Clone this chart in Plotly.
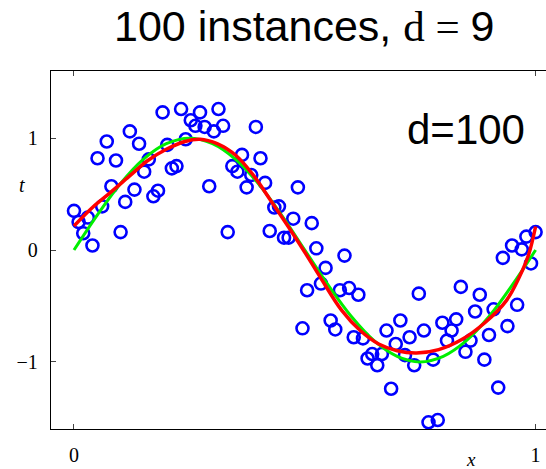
import plotly.graph_objects as go

x_obs = [0.000, 0.010, 0.020, 0.030, 0.040, 0.051, 0.061, 0.071, 0.081, 0.091,
         0.101, 0.111, 0.121, 0.131, 0.141, 0.152, 0.162, 0.172, 0.182, 0.192,
         0.202, 0.212, 0.222, 0.232, 0.242, 0.253, 0.263, 0.273, 0.283, 0.293,
         0.303, 0.313, 0.323, 0.333, 0.343, 0.354, 0.364, 0.374, 0.384, 0.394,
         0.404, 0.414, 0.424, 0.434, 0.444, 0.455, 0.465, 0.475, 0.485, 0.495,
         0.505, 0.515, 0.525, 0.535, 0.545, 0.556, 0.566, 0.576, 0.586, 0.596,
         0.606, 0.616, 0.626, 0.636, 0.646, 0.657, 0.667, 0.677, 0.687, 0.697,
         0.707, 0.717, 0.727, 0.737, 0.747, 0.758, 0.768, 0.778, 0.788, 0.798,
         0.808, 0.818, 0.828, 0.838, 0.848, 0.859, 0.869, 0.879, 0.889, 0.899,
         0.909, 0.919, 0.929, 0.939, 0.949, 0.960, 0.970, 0.980, 0.990, 1.000]
t_obs = [0.35, 0.25, 0.15, 0.29, 0.04, 0.82, 0.39, 0.97, 0.57, 0.80,
         0.16, 0.43, 1.06, 0.54, 0.95, 0.70, 0.81, 0.48, 0.53, 1.23,
         0.94, 0.73, 0.75, 1.26, 0.99, 1.16, 1.11, 1.23, 1.10, 0.57,
         1.06, 1.26, 1.11, 0.16, 0.75, 0.70, 0.85, 0.56, 0.67, 1.10,
         0.82, 0.60, 0.17, 0.38, 0.39, 0.11, 0.11, 0.28, 0.56, -0.70,
         -0.36, 0.24, 0.015, -0.30, -0.16, -0.63, -0.71, -0.36, -0.05, -0.34,
         -0.78, -0.40, -0.79, -0.97, -0.93, -1.03, -0.93, -0.72, -1.24, -0.84,
         -0.63, -0.94, -0.78, -1.03, -0.39, -0.72, -1.54, -0.98, -1.52, -0.65,
         -0.81, -0.72, -0.62, -0.33, -0.91, -0.81, -0.55, -0.40, -0.98, -0.76,
         -0.53, -1.23, -0.07, -0.68, 0.04, -0.49, 0.006, 0.12, -0.12, 0.16]

# true curve (green), read samples
x_true = [0.0, 0.05, 0.1, 0.15, 0.2, 0.25, 0.3, 0.35, 0.4, 0.45, 0.5,
          0.55, 0.6, 0.65, 0.7, 0.75, 0.8, 0.85, 0.9, 0.95, 1.0]
t_true = [0.0, 0.31, 0.59, 0.81, 0.95, 1.0, 0.95, 0.81, 0.59, 0.31, 0.0,
          -0.31, -0.59, -0.81, -0.95, -1.0, -0.95, -0.81, -0.59, -0.31, 0.0]

# fitted curve (red), read samples
x_fit = [0.0, 0.04, 0.078, 0.12, 0.16, 0.20, 0.24, 0.273, 0.31, 0.352, 0.39,
         0.425, 0.464, 0.50, 0.533, 0.58, 0.62, 0.66, 0.70, 0.742, 0.79,
         0.84, 0.89, 0.937, 0.965, 0.985, 1.0]
t_fit = [0.215, 0.38, 0.51, 0.66, 0.80, 0.90, 0.97, 0.99, 0.95, 0.84, 0.66,
         0.45, 0.21, -0.02, -0.24, -0.54, -0.72, -0.84, -0.90, -0.92, -0.89,
         -0.80, -0.65, -0.45, -0.24, -0.04, 0.21]

x_ticks = [0, 1]
y_ticks = [-1, 0, 1]

SERIF = "Liberation Serif"
SANS = "Liberation Sans"

fig = go.Figure()
fig.add_trace(go.Scatter(x=x_obs, y=t_obs, mode="markers",
                         marker=dict(symbol="circle-open", size=12, color="#0000ff",
                                     line=dict(width=2.6, color="#0000ff")),
                         showlegend=False, cliponaxis=False))
fig.add_trace(go.Scatter(x=x_true, y=t_true, mode="lines", line_shape="spline",
                         line=dict(color="#00ee00", width=3), showlegend=False))
fig.add_trace(go.Scatter(x=x_fit, y=t_fit, mode="lines", line_shape="spline",
                         line=dict(color="#ff0000", width=3.5), showlegend=False))

fig.update_layout(
    width=546, height=469,
    margin=dict(l=51, r=0, t=71, b=40, autoexpand=False),
    plot_bgcolor="white", paper_bgcolor="white",
    xaxis=dict(range=[-0.0498, 1.0225], tickvals=x_ticks, ticks="inside", ticklen=5,
               showline=True, linecolor="black", linewidth=1.3, mirror="ticks",
               showgrid=False, zeroline=False, automargin=False,
               tickfont=dict(family=SERIF, size=20, color="black"),
               ticklabelstandoff=8),
    yaxis=dict(range=[-1.6, 1.6], tickvals=y_ticks, ticks="inside", ticklen=5,
               showline=True, linecolor="black", linewidth=1.3, mirror=False,
               showgrid=False, zeroline=False, automargin=False,
               tickfont=dict(family=SERIF, size=20, color="black"),
               ticklabelstandoff=8),
    annotations=[
        dict(text="100 instances, <span style='font-family:Liberation Serif'>d = </span>9",
             xref="paper", yref="paper", x=0.512, y=1.125, xanchor="center", yanchor="middle",
             showarrow=False, font=dict(family=SANS, size=43, color="black")),
        dict(text="d=100", xref="x", yref="y", x=0.849, y=1.076,
             xanchor="center", yanchor="middle", showarrow=False,
             font=dict(family=SANS, size=42, color="black")),
        dict(text="<i>x</i>", xref="x", yref="paper", x=0.861, y=-0.084,
             xanchor="center", yanchor="middle", showarrow=False,
             font=dict(family=SERIF, size=19, color="black")),
        dict(text="<i>t</i>", xref="paper", yref="y", x=-0.059, y=0.583,
             xanchor="center", yanchor="middle", showarrow=False,
             font=dict(family=SERIF, size=20, color="black")),
    ],
)

fig.write_html("out.html", config={"displayModeBar": False},
               post_script="document.body.style.margin='0';")
